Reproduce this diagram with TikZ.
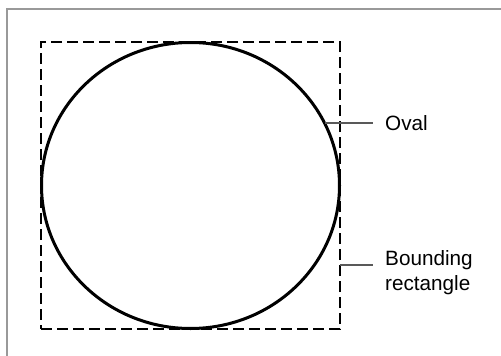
\documentclass[tikz,border=0pt]{standalone}
\usepackage{fontspec}
\setmainfont{Liberation Sans}
\usetikzlibrary{shapes.geometric}
\begin{document}
\begin{tikzpicture}[x=1pt,y=-1pt,
  lbl/.style={anchor=west,inner sep=0pt,align=left,font=\fontsize{20.7}{25}\selectfont},
  leader/.style={draw=black!65,line width=1.2pt},
  frameline/.style={draw=black!40,line width=1.5pt}]
\useasboundingbox (0,0) rectangle (501,356);
\fill[white] (0,0) rectangle (501,356);
\draw[frameline] (7,360) -- (7,9) -- (505,9);
\node[draw,dash pattern=on 11pt off 5pt,line width=2pt,minimum width=299pt,minimum height=287pt,inner sep=0pt] (rect) at (190.5,185.5) {};
\node[draw,ellipse,line width=3pt,minimum width=298pt,minimum height=286pt,inner sep=0pt] (oval) at (190.5,185.5) {};
\node[lbl] (ovaltxt) at (385,123) {Oval};
\node[lbl,anchor=north west] (bndtxt) at (385,250.5) {Bounding\\rectangle};
\coordinate (ovalpt) at (325,123);
\coordinate (rectpt) at (340,265);
\draw[leader,shorten >=12pt] (ovalpt) -- (ovaltxt.west);
\draw[leader,shorten >=12pt] (rectpt) -- (rectpt -| bndtxt.west);
\end{tikzpicture}
\end{document}
